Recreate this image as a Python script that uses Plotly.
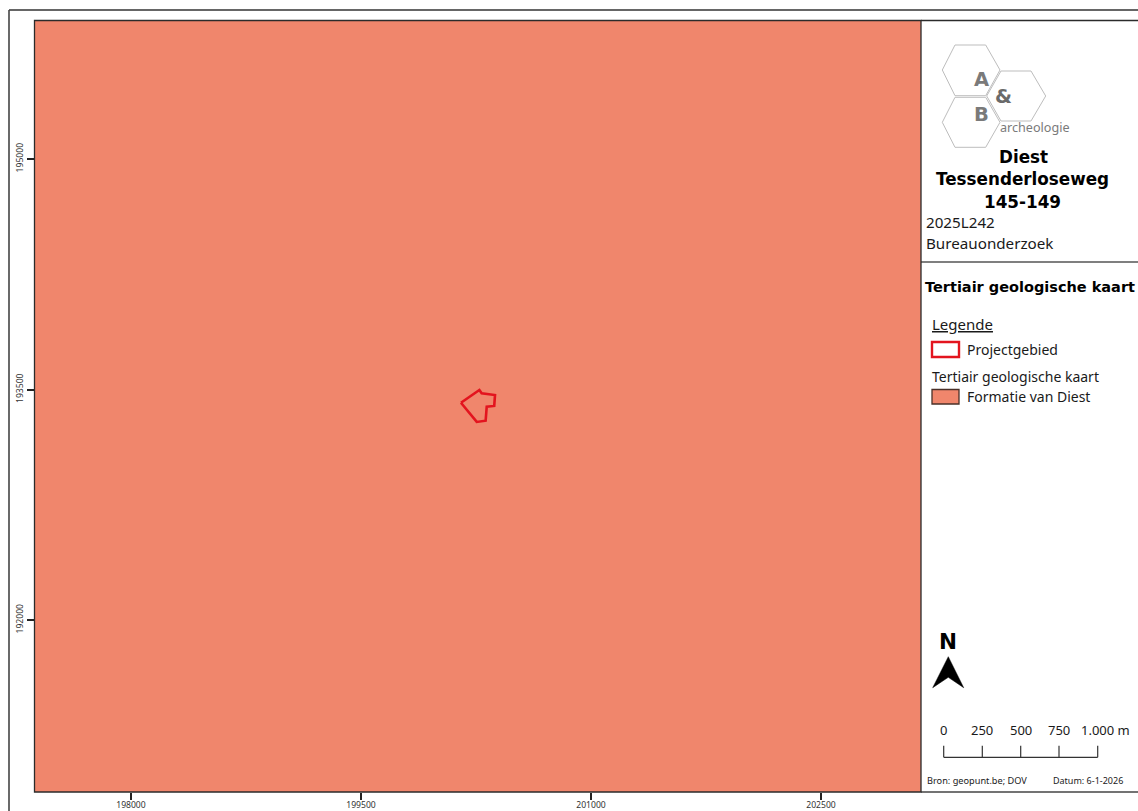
import plotly.graph_objects as go

W, H = 1138, 811

# ---- data (Belgian Lambert coordinates, metres) ----
x_ticks = [198000, 199500, 201000, 202500]
y_ticks = [192000, 193500, 195000]
x_extent = [197371, 203152]
y_extent = [190881, 195901]
formation_name = "Formatie van Diest"
project_name = "Projectgebied"
project_x = [200152, 200272, 200287, 200374, 200369, 200320, 200313, 200255, 200152]
project_y = [193414, 193497, 193475, 193464, 193393, 193388, 193297, 193289, 193414]
scale_labels = ["0", "250", "500", "750", "1.000 m"]

FILL = "#F0866C"
RED = "#E3141E"
DARK = "#2b2b2b"
FONT = "Noto Sans"
BOLD = "DejaVu Sans"


def px(x):
    return x / W


def py(y):
    return 1 - y / H


fig = go.Figure()
fig.add_trace(go.Scatter(
    x=[x_extent[0], x_extent[1], x_extent[1], x_extent[0], x_extent[0]],
    y=[y_extent[0], y_extent[0], y_extent[1], y_extent[1], y_extent[0]],
    mode="lines", fill="toself", fillcolor=FILL, line=dict(width=0),
    name=formation_name, hoverinfo="name"))
fig.add_trace(go.Scatter(
    x=project_x, y=project_y, mode="lines",
    line=dict(color=RED, width=2.6), name=project_name, hoverinfo="name"))

shapes = []


def line(x0, y0, x1, y1, color=DARK, width=1.3):
    shapes.append(dict(type="line", xref="paper", yref="paper",
                       x0=px(x0), y0=py(y0), x1=px(x1), y1=py(y1),
                       line=dict(color=color, width=width)))


def rect(x0, y0, x1, y1, color, width, fill="rgba(0,0,0,0)"):
    shapes.append(dict(type="rect", xref="paper", yref="paper",
                       x0=px(x0), y0=py(y0), x1=px(x1), y1=py(y1),
                       line=dict(color=color, width=width), fillcolor=fill))


def poly(points, color, width, fill="rgba(0,0,0,0)"):
    path = "M " + " L ".join(f"{px(a):.5f},{py(b):.5f}" for a, b in points) + " Z"
    shapes.append(dict(type="path", xref="paper", yref="paper", path=path,
                       line=dict(color=color, width=width), fillcolor=fill))


# frame
line(9, 10, 1138, 10, "#333333", 1.4)
line(9, 10, 9, 811, "#444444", 1.6)
line(921, 262, 1138, 262, "#555555", 1.6)
line(921, 20.5, 1138, 20.5, DARK, 1.3)
line(921, 792, 1138, 792, "#444444", 1.3)
rect(34.5, 20.5, 921, 792, DARK, 1.3)

# logo
HEX = "#BDBDBD"
poly([(942.3, 70), (955, 45), (985.7, 45), (1000, 70), (985.7, 95.7), (955, 95.7)], HEX, 1)
poly([(986.7, 96), (1001, 71), (1031, 71), (1045.7, 96), (1031, 121), (1001, 121)], HEX, 1)
poly([(942.3, 122.3), (955, 97.3), (985.7, 97.3), (1000, 122.3), (985.7, 147.3), (955, 147.3)], HEX, 1)

# legend symbols
rect(932, 342, 959, 357, RED, 2.4, "white")
rect(932, 389.5, 959, 404, "#4a3028", 1.3, FILL)

# north arrow
poly([(948.3, 656.7), (932.7, 687.7), (948.3, 677.3), (963.7, 687.7)], "black", 0.5, "black")

# scale bar
scale_px = [943.7, 982.3, 1020.7, 1059, 1097.7]
line(scale_px[0], 757.3, scale_px[-1], 757.3, "#333333", 1.2)
for sx in scale_px:
    line(sx, 745.7, sx, 757.3, "#333333", 1.2)

ann = []


def text(x, y, s, size, anchor="left", bold=False, color="#1a1a1a", family=FONT):
    ann.append(dict(xref="paper", yref="paper", x=px(x), y=py(y), text=f"<b>{s}</b>" if bold else s,
                    showarrow=False, xanchor=anchor, yanchor="middle", align=anchor,
                    borderpad=0, borderwidth=0,
                    font=dict(family=family, size=size, color=color)))


GREY = "#7a7a7a"
text(981, 80, "A", 19.5, "center", True, GREY, BOLD)
text(981.7, 114, "B", 19.5, "center", True, GREY, BOLD)
text(1003.3, 96.7, "&amp;", 19.5, "center", True, "#6a6a6a", BOLD)
text(1000, 127.5, "archeologie", 12.6, "left", color=GREY)
text(1023, 156.7, "Diest", 16.8, "center", True, "black", BOLD)
text(1022, 179, "Tessenderloseweg", 16.8, "center", True, "black", BOLD)
text(1022, 201.7, "145-149", 16.8, "center", True, "black", BOLD)
text(926, 222.5, "2025L242", 15.2)
text(926, 242.5, "Bureauonderzoek", 15.2)
text(925, 287, "Tertiair geologische kaart", 14.5, "left", True, "black", BOLD)
text(931.7, 324.5, "<u>Legende</u>", 15)
text(966.7, 349.5, project_name, 14)
text(932, 376.5, "Tertiair geologische kaart", 14)
text(966.7, 396.2, formation_name, 14)
text(948.3, 641, "N", 21.5, "center", True, "black", BOLD)
for sx, lab in zip(scale_px[:-1], scale_labels[:-1]):
    text(sx, 729.5, lab, 13, "center")
text(1105.7, 729.5, scale_labels[-1], 13, "center")
text(927.3, 780.2, "Bron: geopunt.be; DOV", 9.2)
text(1052.7, 780.2, "Datum: 6-1-2026", 9)

axis_common = dict(showgrid=False, zeroline=False, showline=False, ticks="outside",
                   automargin=False, ticklen=7, tickwidth=1.5, tickcolor="#222222",
                   tickfont=dict(family=FONT, size=8.6, color="#333333"))

fig.update_layout(
    width=W, height=H, margin=dict(l=0, r=0, t=0, b=0, pad=0),
    paper_bgcolor="white", plot_bgcolor=FILL, showlegend=False,
    xaxis=dict(domain=[px(34.5), px(921)], range=x_extent, tickmode="array",
               ticklabelstandoff=-2,
               tickvals=x_ticks, ticktext=[str(v) for v in x_ticks], **axis_common),
    yaxis=dict(domain=[py(792), py(20.5)], range=y_extent, tickmode="array",
               tickvals=y_ticks, ticktext=[str(v) for v in y_ticks], tickangle=-90, **axis_common),
    shapes=shapes, annotations=ann,
)

fig.write_html("out.html", config=dict(displayModeBar=False),
               post_script="document.body.style.margin='0';document.body.style.overflow='hidden';")
